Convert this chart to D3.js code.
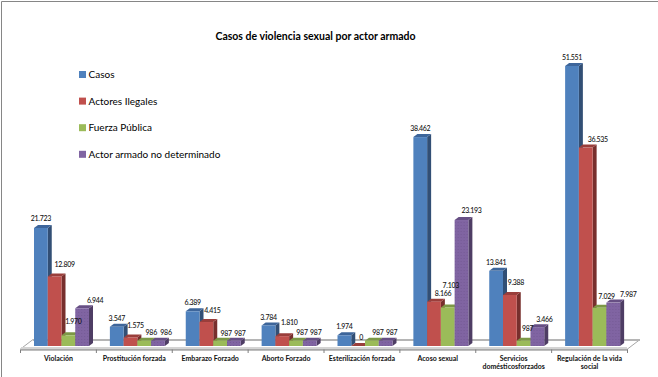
<!DOCTYPE html>
<html>
<head>
<meta charset="utf-8">
<script src="https://cdn.jsdelivr.net/npm/d3@7"></script>
<style>
  html, body { margin: 0; padding: 0; background: #fff; }
  svg { display: block; font-family: Lato, "Open Sans", sans-serif; }
</style>
</head>
<body>
<div id="chart"></div>
<script>
const categories = ["Violación", "Prostitución forzada", "Embarazo Forzado", "Aborto Forzado",
  "Esterilización forzada", "Acoso sexual", "Servicios domésticosforzados", "Regulación de la vida social"];
const seriesNames = ["Casos", "Actores Ilegales", "Fuerza Pública", "Actor armado no determinado"];
const casos = [21723, 3547, 6389, 3784, 1974, 38462, 13841, 51551];
const actoresIlegales = [12809, 1575, 4415, 1810, 0, 8166, 9388, 36535];
const fuerzaPublica = [1970, 986, 987, 987, 987, 7103, 987, 7029];
const actorNoDeterminado = [6944, 986, 987, 987, 987, 23193, 3466, 7987];
const seriesValues = [casos, actoresIlegales, fuerzaPublica, actorNoDeterminado];

// colours: front, side, top
const colors = [
  ["#4f81bd", "#324f75", "#3d659a"],
  ["#c0504d", "#772f2d", "#9a3e3b"],
  ["#9bbb59", "#5f7435", "#7c9846"],
  ["#8064a2", "#4e3d64", "#674f84"]
];

// the labels were dragged by hand in the original, [dx, dy] per category and series
const labelNudge = [
  [[0, -9], [10, -12], [5, -14], [13, -8]],
  [[0, -8], [5, -12], [7, -8], [8, -8]],
  [[0, -9], [6, -11], [6, -7], [6, -7]],
  [[0, -8], [7, -14], [6, -8], [6, -8]],
  [[0, -9], [3, -8], [6, -8], [6, -8]],
  [[0, -9], [9, -8], [3, -22], [10, -9]],
  [[0, -8], [6, -12], [4, -12], [7, -8]],
  [[0, -8], [12, -8], [7, -11], [15, -8]]
];

const width = 658, height = 377;
const depth = 4, rise = 3;
const fmt = v => d3.format(",")(v).replace(/,/g, ".");

const svg = d3.select("#chart").append("svg")
  .attr("width", width)
  .attr("height", height);

// speckle on the purple bars
let speckle = svg.append("defs").append("pattern")
  .attr("id", "speckle")
  .attr("width", 3)
  .attr("height", 3)
  .attr("patternUnits", "userSpaceOnUse");
speckle.append("rect").attr("width", 3).attr("height", 3).attr("fill", colors[3][0]);
speckle.append("rect").attr("width", 1).attr("height", 1).attr("fill", "#745a95");

// outer frame, only top and left show in the crop
svg.append("path")
  .attr("d", "M1.5," + height + "V1.5H" + width)
  .attr("fill", "none")
  .attr("stroke", "#868686")
  .attr("stroke-width", 1);

svg.append("text")
  .attr("x", 315.5)
  .attr("y", 39.5)
  .attr("text-anchor", "middle")
  .attr("font-size", 10.5)
  .attr("font-weight", 700)
  .attr("fill", "#000")
  .text("Casos de violencia sexual por actor armado");

let x = d3.scaleBand().domain(d3.range(categories.length)).range([20.5, 627.5]);
let xBar = d3.scaleBand().domain(d3.range(seriesNames.length)).range([13.5, 68.5]);
let y = d3.scaleLinear().domain([0, 51551]).range([346, 66]);

// floor of the 3d plot
svg.append("path")
  .attr("d", d3.line()([[20.5, 349], [627.5, 349], [640, 339.5], [33, 339.5]]) + "Z")
  .attr("fill", "#fff")
  .attr("stroke", "#a6a6a6")
  .attr("stroke-width", 1);
svg.append("rect")
  .attr("x", 33)
  .attr("y", 339)
  .attr("width", 607)
  .attr("height", 2)
  .attr("fill", "#b5b5b5");
svg.append("rect")
  .attr("x", 21)
  .attr("y", 347)
  .attr("width", 606)
  .attr("height", 2)
  .attr("fill", "#d4d4d4");

let xAxis = svg.append("g")
  .attr("transform", "translate(0,349.5)")
  .call(d3.axisBottom(x).tickSize(0).tickPadding(7).tickFormat(i => categories[i]));
xAxis.select(".domain").attr("stroke", "#7f7f7f");
xAxis.selectAll("text")
  .attr("font-size", 7)
  .attr("font-weight", 700)
  .attr("fill", "#111")
  .attr("font-family", "Lato, sans-serif")
  .call(wrap, 72);

// ticks fall between categories
svg.append("g").selectAll("line")
  .data(d3.range(categories.length + 1))
  .join("line")
  .attr("x1", i => 20.5 + i * x.step())
  .attr("x2", i => 20.5 + i * x.step())
  .attr("y1", 349.5)
  .attr("y2", 353)
  .attr("stroke", "#7f7f7f");

let bars = svg.append("g").selectAll("g")
  .data(seriesValues.flatMap((vals, s) => vals.map((v, c) => ({ c, s, v }))))
  .join("g")
  .attr("transform", d => "translate(" + (x(d.c) + xBar(d.s)) + ",0)");

let w = xBar.bandwidth();

bars.append("path")
  .attr("fill", d => colors[d.s][1])
  .attr("d", d => d3.line()([[w, y(d.v)], [w + depth, y(d.v) - rise], [w + depth, y(0) - rise], [w, y(0)]]) + "Z");

bars.append("path")
  .attr("fill", d => colors[d.s][2])
  .attr("d", d => d3.line()([[0, y(d.v)], [depth, y(d.v) - rise], [w + depth, y(d.v) - rise], [w, y(d.v)]]) + "Z");

bars.append("rect")
  .attr("y", d => y(d.v))
  .attr("width", w)
  .attr("height", d => y(0) - y(d.v))
  .attr("fill", d => d.s === 3 ? "url(#speckle)" : colors[d.s][0]);

svg.append("g").selectAll("text")
  .data(seriesValues.flatMap((vals, s) => vals.map((v, c) => ({ c, s, v }))))
  .join("text")
  .attr("x", d => x(d.c) + xBar(d.s) + w / 2 + labelNudge[d.c][d.s][0])
  .attr("y", d => y(d.v) + labelNudge[d.c][d.s][1])
  .attr("dy", "0.35em")
  .attr("text-anchor", "middle")
  .attr("font-size", 7)
  .attr("letter-spacing", -0.3)
  .attr("font-weight", 500)
  .attr("fill", "#111")
  .text(d => fmt(d.v));

let legend = svg.append("g").selectAll("g")
  .data(seriesNames)
  .join("g")
  .attr("transform", (d, i) => "translate(79," + (71 + i * 26.6) + ")");

legend.append("rect")
  .attr("width", 7)
  .attr("height", 7)
  .attr("fill", (d, i) => colors[i][0]);

legend.append("text")
  .attr("x", 9.5)
  .attr("y", 3.5)
  .attr("dy", "0.35em")
  .attr("font-size", 10)
  .attr("fill", "#000")
  .text(d => d);

function wrap(text, maxWidth) {
  text.each(function () {
    let label = d3.select(this),
      words = label.text().split(" "),
      line = [],
      lineNo = 0,
      yPos = label.attr("y"),
      tspan = label.text(null).append("tspan").attr("x", 0).attr("y", yPos).attr("dy", "0.71em");
    words.forEach(word => {
      line.push(word);
      tspan.text(line.join(" "));
      if (tspan.node().getComputedTextLength() > maxWidth && line.length > 1) {
        line.pop();
        tspan.text(line.join(" "));
        line = [word];
        lineNo++;
        tspan = label.append("tspan").attr("x", 0).attr("y", yPos)
          .attr("dy", (0.71 + lineNo * 1.1) + "em").text(word);
      }
    });
  });
}
</script>
</body>
</html>
